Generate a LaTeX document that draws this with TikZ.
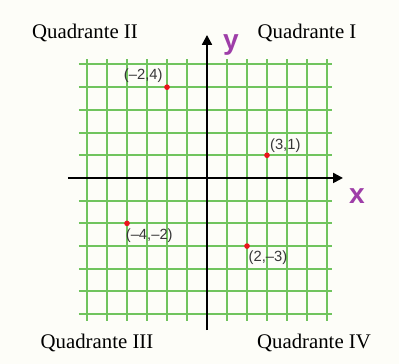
\documentclass[tikz,border=0pt]{standalone}
\usepackage{fontspec}
\setmainfont{Liberation Serif}
\newfontfamily\pointfont{Liberation Sans}
\usetikzlibrary{arrows.meta}
\definecolor{gridgreen}{RGB}{112,196,94}
\definecolor{axispurple}{RGB}{158,62,168}
\definecolor{dotred}{RGB}{235,20,30}
\definecolor{labelgray}{RGB}{55,55,55}
\definecolor{paper}{RGB}{253,253,248}

\begin{document}
\begin{tikzpicture}[x=0.5cm, y=0.5675cm,
  quadlabel/.style={font=\fontsize{14.8}{16}\selectfont},
  pointlabel/.style={font=\pointfont\fontsize{10.5}{12}\selectfont, text=labelgray, inner sep=1pt},
  axislabel/.style={font=\pointfont\bfseries\fontsize{20}{22}\selectfont, text=axispurple}]
\fill[paper] (-10.35,-8.19) rectangle (9.6,7.84);
\useasboundingbox (-10.35,-8.19) rectangle (9.6,7.84);

% grid
\foreach \i in {-6,...,6}
  \draw[gridgreen, line width=1.4pt] (\i,-6.3) -- (\i,5.25);
\foreach \j in {-6,...,5}
  \draw[gridgreen, line width=1.4pt] (-6.4,\j) -- (6.25,\j);

% axes
\coordinate (xmin) at (-6.95,0);
\coordinate (xmax) at (6.8,0);
\coordinate (ymin) at (0,-6.7);
\coordinate (ymax) at (0,6.3);
\draw[line width=1.5pt, -{Triangle[length=7pt, width=7pt]}] (xmin) -- (xmax);
\draw[line width=1.5pt, -{Triangle[length=7pt, width=7pt]}] (ymin) -- (ymax);
\node[axislabel] (ylab) at (1.2,5.85) {y};
\node[axislabel] (xlab) at (7.5,-0.8) {x};

% points
\coordinate (pA) at (-2,4);
\coordinate (pB) at (3,1);
\coordinate (pC) at (-4,-2);
\coordinate (pD) at (2,-3);
\foreach \p in {pA,pB,pC,pD}
  \fill[dotred] (\p) circle (2pt);
\node[pointlabel, anchor=south east, xshift=-2pt, yshift=2pt] (lA) at (pA) {(–2,4)};
\node[pointlabel, anchor=south west, xshift=1pt, yshift=1pt] (lB) at (pB) {(3,1)};
\node[pointlabel, anchor=north west, xshift=-2pt, yshift=-3pt] (lC) at (pC) {(–4,–2)};
\node[pointlabel, anchor=north west, xshift=0pt, yshift=-2pt] (lD) at (pD) {(2,–3)};

% quadrants
\node[quadlabel] (q2) at (-6.1,6.4) {Quadrante II};
\node[quadlabel] (q1) at (5.0,6.4) {Quadrante I};
\node[quadlabel] (q3) at (-5.5,-7.27) {Quadrante III};
\node[quadlabel] (q4) at (5.35,-7.27) {Quadrante IV};

\end{tikzpicture}
\end{document}
